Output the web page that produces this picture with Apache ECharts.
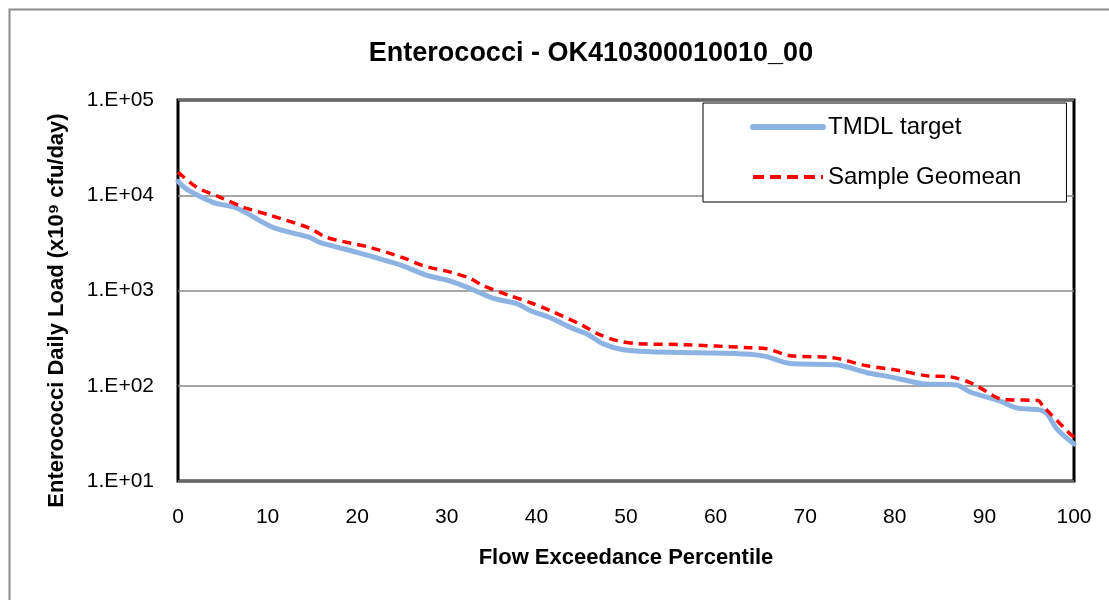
<!DOCTYPE html>
<html>
<head>
<meta charset="utf-8">
<script src="https://cdn.jsdelivr.net/npm/echarts@6/dist/echarts.min.js"></script>
<style>html,body{margin:0;padding:0;background:#fff;}#c{width:1109px;height:600px;}</style>
</head>
<body>
<div id="c"></div>
<script>
const titleText = 'Enterococci - OK410300010010_00';
const xAxisName = 'Flow Exceedance Percentile';
const yAxisName = 'Enterococci Daily Load (x10\u2079 cfu/day)';
const seriesNames = ['TMDL target', 'Sample Geomean'];

const tmdlX = [0, 1, 3.9, 6.6, 10.6, 14.7, 15.8, 20, 25, 27.8, 30.5, 32.6, 35.2, 37.8, 39.3, 41.5, 44.1, 45.6, 47.4, 49.7, 52.7, 58.3, 63.8, 65.7, 68.3, 73.5, 76.9, 79.5, 83.1, 86.9, 88.4, 91.7, 93.6, 96.2, 97, 98.1, 100];
const tmdlY = [14000, 11500, 8430, 7300, 4600, 3610, 3200, 2510, 1830, 1440, 1250, 1050, 825, 730, 617, 520, 398, 352, 277, 239, 228, 222, 214, 202, 171, 166, 137, 124, 105, 102, 86, 69.5, 58.6, 55.8, 50.7, 35, 24.5];

const geoX = [0, 2.1, 4.7, 7.3, 10.3, 14.7, 16.6, 21.4, 25, 27.3, 30.5, 32.6, 34, 37, 39.3, 41.5, 45.2, 46.8, 49, 51.2, 56.4, 63.8, 65.7, 68.3, 73.1, 76.9, 80.6, 83.6, 86.2, 88.7, 91.7, 93, 96, 96.5, 99.6, 100];
const geoY = [17500, 12100, 9520, 7480, 6160, 4500, 3610, 2840, 2225, 1830, 1550, 1340, 1130, 885, 748, 617, 428, 352, 298, 277, 270, 251, 245, 207, 197, 162, 144, 127, 124, 105, 73, 71, 70, 61.6, 31, 29];

const chart = echarts.init(document.getElementById('c'), null, {renderer: 'canvas'});
const font = 'Liberation Sans';
chart.setOption({
  backgroundColor: '#fff',
  animation: false,
  textStyle: {fontFamily: font},
  title: {
    text: titleText, left: 586, top: 35, textAlign: 'center',
    textStyle: {fontFamily: font, fontSize: 27, fontWeight: 'bold', color: '#000'}
  },
  graphic: [{
    type: 'rect', left: 7, top: 7, shape: {width: 1300, height: 800},
    style: {fill: null, stroke: '#8c8c8c', lineWidth: 2}, silent: true, z: -1
  }],
  legend: {
    orient: 'vertical', left: 703, top: 103,
    padding: [12, 45, 13, 47], itemGap: 26,
    itemWidth: 70, itemHeight: 12,
    backgroundColor: '#fff', borderColor: '#000', borderWidth: 1,
    textStyle: {fontFamily: font, fontSize: 24, color: '#000'},
    data: [
      {name: seriesNames[0], itemStyle: {opacity: 0}, lineStyle: {width: 6, color: '#8DB3E2', cap: 'round'}},
      {name: seriesNames[1], itemStyle: {opacity: 0}, lineStyle: {width: 4, color: '#FF0000', type: [11, 6]}}
    ]
  },
  grid: {
    left: 178, right: 35, top: 100, bottom: 119,
    show: true, borderColor: '#000', borderWidth: 3, backgroundColor: 'transparent'
  },
  xAxis: {
    type: 'value', min: 0, max: 100, interval: 10,
    name: xAxisName, nameLocation: 'middle', nameGap: 66,
    nameTextStyle: {fontFamily: font, fontSize: 22, fontWeight: 'bold', color: '#000'},
    axisLine: {show: false}, axisTick: {show: false}, splitLine: {show: false},
    axisLabel: {fontFamily: font, fontSize: 21, color: '#000', margin: 26}
  },
  yAxis: {
    type: 'log', logBase: 10, min: 10, max: 100000,
    name: yAxisName, nameLocation: 'middle', nameGap: 110, nameRotate: 90,
    nameTextStyle: {fontFamily: font, fontSize: 22, fontWeight: 'bold', color: '#000', padding: [0, 40, 0, 0]},
    axisLine: {show: false}, axisTick: {show: false},
    splitLine: {show: true, lineStyle: {color: '#8a8a8a', width: 1.5}},
    axisLabel: {
      fontFamily: font, fontSize: 21, color: '#000', margin: 24,
      formatter: function (v) {
        const e = Math.round(Math.log10(v));
        return '1.E+' + (e < 10 ? '0' + e : e);
      }
    }
  },
  series: [
    {
      name: seriesNames[0], type: 'line', symbol: 'none', smooth: 0.3, z: 2,
      lineStyle: {color: '#8DB3E2', width: 5, cap: 'round'},
      itemStyle: {color: '#8DB3E2'},
      data: tmdlX.map((x, i) => [x, tmdlY[i]])
    },
    {
      name: seriesNames[1], type: 'line', symbol: 'none', smooth: 0.3, z: 3,
      lineStyle: {color: '#FF0000', width: 3.5, type: [9, 6]},
      itemStyle: {color: '#FF0000'},
      data: geoX.map((x, i) => [x, geoY[i]])
    }
  ]
});
</script>
</body>
</html>
